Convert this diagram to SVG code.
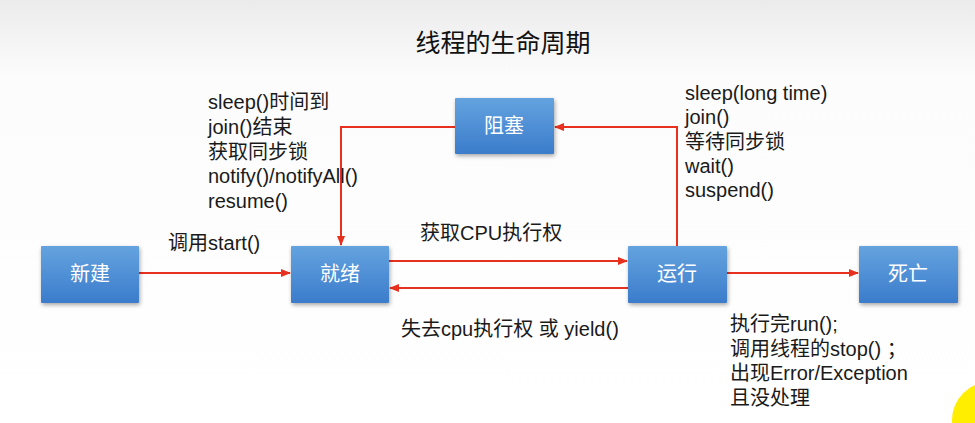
<svg xmlns="http://www.w3.org/2000/svg" width="975" height="423" viewBox="0 0 975 423">
  <defs>
    <linearGradient id="bg" x1="0" y1="0" x2="0" y2="1">
      <stop offset="0" stop-color="#ebebeb"/>
      <stop offset="0.18" stop-color="#fbfcfb"/>
      <stop offset="1" stop-color="#ffffff"/>
    </linearGradient>
    <linearGradient id="box" x1="0" y1="0" x2="0" y2="1">
      <stop offset="0" stop-color="#64a3df"/>
      <stop offset="1" stop-color="#3b7ccb"/>
    </linearGradient>
    <filter id="sh" x="-10%" y="-10%" width="125%" height="135%">
      <feGaussianBlur in="SourceAlpha" stdDeviation="2"/>
      <feOffset dx="1" dy="2"/>
      <feComponentTransfer><feFuncA type="linear" slope="0.35"/></feComponentTransfer>
      <feMerge><feMergeNode/><feMergeNode in="SourceGraphic"/></feMerge>
    </filter>
    <marker id="arr" viewBox="0 0 10 10" refX="9" refY="5" markerWidth="10" markerHeight="10" markerUnits="userSpaceOnUse" orient="auto">
      <path d="M0,1 L10,5 L0,9 z" fill="#e8301e"/>
    </marker>
    <style>
      .node rect { fill: url(#box); filter: url(#sh); }
      .node text { fill: #ffffff; font-family: "Liberation Sans", "Noto Sans CJK SC", sans-serif; font-size: 20px; text-anchor: middle; }
      .edge { fill: none; stroke: #e8301e; stroke-width: 2; marker-end: url(#arr); }
      .lbl { fill: #1a1a1a; font-family: "Liberation Sans", "Noto Sans CJK SC", sans-serif; font-size: 20px; }
      .title { fill: #111111; font-family: "Liberation Sans", "Noto Sans CJK SC", sans-serif; font-size: 25px; text-anchor: middle; }
    </style>
  </defs>
  <rect x="0" y="0" width="975" height="423" fill="url(#bg)"/>
  <text class="title" x="503" y="52">线程的生命周期</text>

  <g id="connectors">
    <path class="edge" d="M139,273 L290,273"/>
    <path class="edge" d="M389,261 L627,261"/>
    <path class="edge" d="M628,288 L390,288"/>
    <path class="edge" d="M727,273 L858,273"/>
    <path class="edge" d="M677,246 L677,127 L555,127"/>
    <path class="edge" d="M455,127 L341,127 L341,245"/>
  </g>

  <g id="node-new" class="node">
    <rect x="41" y="246" width="98" height="57" rx="1"/>
    <text x="90" y="281">新建</text>
  </g>
  <g id="node-ready" class="node">
    <rect x="291" y="246" width="98" height="57" rx="1"/>
    <text x="340" y="281">就绪</text>
  </g>
  <g id="node-blocked" class="node">
    <rect x="455" y="98" width="99" height="56" rx="1"/>
    <text x="504" y="133">阻塞</text>
  </g>
  <g id="node-running" class="node">
    <rect x="628" y="246" width="99" height="57" rx="1"/>
    <text x="677" y="281">运行</text>
  </g>
  <g id="node-dead" class="node">
    <rect x="859" y="246" width="99" height="57" rx="1"/>
    <text x="908" y="281">死亡</text>
  </g>

  <g id="labels">
    <text class="lbl" x="168" y="250">调用start()</text>
    <text class="lbl" x="420" y="240">获取CPU执行权</text>
    <text class="lbl" x="401" y="336">失去cpu执行权 或 yield()</text>
    <text class="lbl">
      <tspan x="208" y="109">sleep()时间到</tspan>
      <tspan x="208" y="134">join()结束</tspan>
      <tspan x="208" y="158.5">获取同步锁</tspan>
      <tspan x="208" y="183">notify()/notifyAll()</tspan>
      <tspan x="208" y="208">resume()</tspan>
    </text>
    <text class="lbl">
      <tspan x="685" y="100">sleep(long time)</tspan>
      <tspan x="685" y="124">join()</tspan>
      <tspan x="685" y="148.5">等待同步锁</tspan>
      <tspan x="685" y="173">wait()</tspan>
      <tspan x="685" y="197">suspend()</tspan>
    </text>
    <text class="lbl" xml:space="preserve">
      <tspan x="730" y="331">执行完run();</tspan>
      <tspan x="730" y="355.5">调用线程的stop() ；</tspan>
      <tspan x="730" y="380">出现Error/Exception</tspan>
      <tspan x="730" y="404.5">且没处理</tspan>
    </text>
  </g>

  <circle cx="990" cy="420" r="38" fill="#ffee00"/>
</svg>
